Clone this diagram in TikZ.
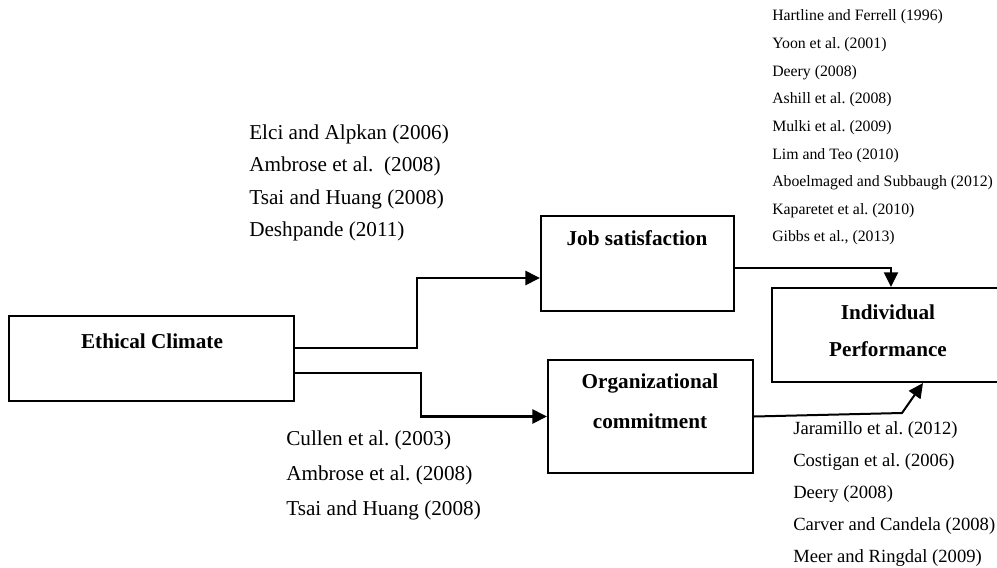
\documentclass[tikz,border=0pt]{standalone}
\usepackage{fontspec}
\setmainfont{Liberation Serif}
\usetikzlibrary{arrows.meta,calc}
\frenchspacing
\begin{document}
\begin{tikzpicture}[x=0.75pt,y=-0.75pt,
  box/.style={draw,line width=1.5pt,rectangle,inner sep=0pt},
  lbl/.style={font=\fontsize{15.9}{18}\selectfont\bfseries,inner sep=0pt},
  refl/.style={anchor=west,inner sep=0pt,font=\fontsize{15.9}{18}\selectfont},
  refs/.style={anchor=west,inner sep=0pt,font=\fontsize{11.85}{14}\selectfont},
  refm/.style={anchor=west,inner sep=0pt,font=\fontsize{13.95}{16}\selectfont},
  conn/.style={line width=2pt,-{Triangle[length=11pt,width=10.5pt]}},
  connthin/.style={line width=1.5pt,-{Triangle[length=11pt,width=10.5pt]}}]
\useasboundingbox (0,0) rectangle (997,568);

% boxes
\node[box,minimum width=213.75pt,minimum height=63.75pt] (ec) at (151.5,358.5) {};
\node[box,minimum width=144.75pt,minimum height=71.25pt] (js) at (637.5,263.5) {};
\node[box,minimum width=153.75pt,minimum height=84.75pt] (oc) at (650.5,416.5) {};
\node[box,minimum width=174pt,minimum height=70.5pt] (ip) at (888,335) {};

% box labels
\node[lbl] (ect) at (152,341) {Ethical Climate};
\node[lbl] (jst) at (637,238) {Job satisfaction};
\node[lbl] (oct1) at (650,383) {Organizational};
\node[lbl] (oct2) at (650,421) {commitment};
\node[lbl] (ipt1) at (888,312) {Individual};
\node[lbl] (ipt2) at (888,349) {Performance};

% connectors
\draw[conn] ($(ec.east)+(0,-10.5)$) -| (417,278) -- ($(js.west)+(0,14.5)$);
\draw[conn] ($(ec.east)+(0,14.5)$) -| (421,416.5) -- (oc.west);
\draw[connthin] ($(js.east)+(0,4.5)$) -| ($(ip.north)+(3,0)$);
\draw[connthin] (oc.east) -- (902,413) -- ($(ip.south)+(35,0)$);

% reference lists
\node[refl] (a1) at (249,134) {Elci and Alpkan (2006)};
\node[refl] (a2) at (249,166.5) {Ambrose et al.\ \ (2008)};
\node[refl] (a3) at (249,199) {Tsai and Huang (2008)};
\node[refl] (a4) at (249,231.5) {Deshpande (2011)};

\node[refl] (b1) at (286,440) {Cullen et al. (2003)};
\node[refl] (b2) at (286,475) {Ambrose et al. (2008)};
\node[refl] (b3) at (286,510) {Tsai and Huang (2008)};

\node[refs] (c1) at (772,17) {Hartline and Ferrell (1996)};
\node[refs] (c2) at (772,45) {Yoon et al. (2001)};
\node[refs] (c3) at (772,72.5) {Deery (2008)};
\node[refs] (c4) at (772,100) {Ashill et al. (2008)};
\node[refs] (c5) at (772,128) {Mulki et al. (2009)};
\node[refs] (c6) at (772,155.5) {Lim and Teo (2010)};
\node[refs] (c7) at (772,183) {Aboelmaged and Subbaugh (2012)};
\node[refs] (c8) at (772,211) {Kaparetet et al. (2010)};
\node[refs] (c9) at (772,238) {Gibbs et al., (2013)};

\node[refm] (d1) at (793,430) {Jaramillo et al. (2012)};
\node[refm] (d2) at (793,462) {Costigan et al. (2006)};
\node[refm] (d3) at (793,494) {Deery (2008)};
\node[refm] (d4) at (793,526) {Carver and Candela (2008)};
\node[refm] (d5) at (793,558) {Meer and Ringdal (2009)};
\end{tikzpicture}
\end{document}
